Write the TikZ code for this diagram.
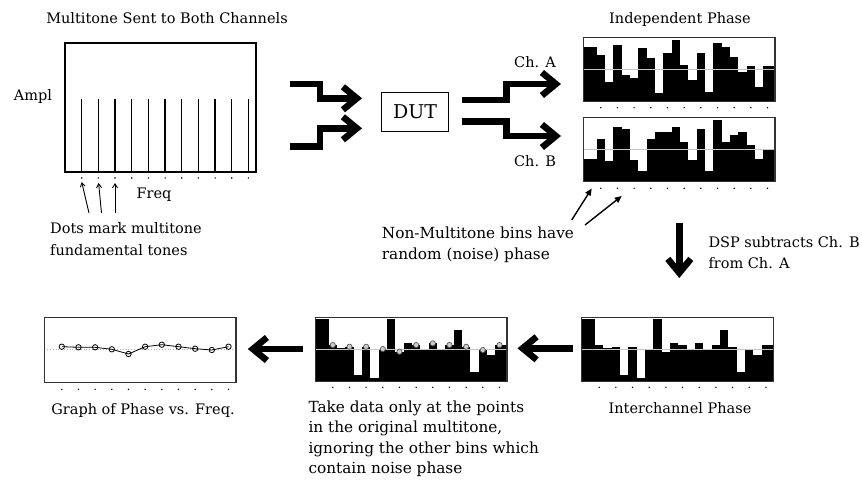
\documentclass[tikz,border=0pt]{standalone}
\usepackage{fontspec}
\setmainfont{DejaVu Serif}
\usetikzlibrary{arrows.meta}

% bars of one phase plot, tops given from the frame's upper edge
\newcommand{\phasebars}[1]{%
  \foreach \v [count=\i from 0] in {#1}{%
    \pgfmathsetmacro{\xa}{ifthenelse(\i==0,0,13.3+8.333*(\i-1))}%
    \pgfmathsetmacro{\xb}{ifthenelse(\i==21,191.7,13.3+8.333*\i)}%
    \fill (\xa,\v) rectangle (\xb,64.4);
  }%
}

\begin{document}
\begin{tikzpicture}[x=1pt, y=-1pt,
  every node/.style={font=\fontsize{14.5}{21.5}\selectfont, inner sep=0pt},
  widenote/.style={font=\fontsize{15.3}{21}\selectfont},
  plotframe/.style={draw=black!80, line width=1.2pt},
  midline/.style={draw=black!22, line width=1pt},
  bigarrow/.style={line width=6.5pt, line join=miter, -{Straight Barb[length=14pt,width=23pt]}},
  thinarrow/.style={line width=0.9pt, -{Straight Barb[length=4pt,width=5pt]}},
  notearrow/.style={line width=1.4pt, -{Triangle[length=7pt,width=6pt]}}]

\useasboundingbox (0,0) rectangle (862,489);

% ============================
% Multitone spectrum
% ============================
\coordinate (specNW) at (65,43);
\coordinate (specSE) at (256,172);
\draw[line width=1.3pt] (specNW) rectangle (specSE);
\foreach \k in {0,...,10}{
  \draw[line width=1.2pt] (81.7+16.67*\k,99) -- (81.7+16.67*\k,172);
  \fill (81.7+16.67*\k,178) circle (0.8pt);
}

\node (sentTitle) at (167,18) {Multitone Sent to Both Channels};
\node (ampl) at (33,97) {Ampl};
\node (freq) at (154,195) {Freq};
\node[anchor=west, align=left] (dotsNote) at (50,239) {Dots mark multitone\\fundamental tones};

\coordinate (f1) at (89,213);   \coordinate (t1) at (81.7,182);
\coordinate (f2) at (101.5,213); \coordinate (t2) at (98.6,183);
\coordinate (f3) at (115,213);  \coordinate (t3) at (115,183);
\draw[thinarrow] (f1) -- (t1);
\draw[thinarrow] (f2) -- (t2);
\draw[thinarrow] (f3) -- (t3);

% ============================
% DUT and its channels
% ============================
\node[draw, line width=0.8pt, minimum width=66.6pt, minimum height=39.4pt,
  font=\fontsize{19}{22}\selectfont] (dut) at (415,112) {DUT};

\coordinate (inA) at (290,84);      \coordinate (inAtip) at (362,98.3);
\coordinate (inB) at (290,146.7);   \coordinate (inBtip) at (362,128.3);
\draw[bigarrow] (inA) -- ++(30,0) |- (inAtip);
\draw[bigarrow] (inB) -- ++(30,0) |- (inBtip);

\coordinate (outA) at (461.7,100);   \coordinate (outAtip) at (561,84);
\coordinate (outB) at (461.7,121.7); \coordinate (outBtip) at (561,136);
\draw[bigarrow] (outA) -- ++(44.6,0) |- (outAtip);
\draw[bigarrow] (outB) -- ++(44.6,0) |- (outBtip);

\node (chA) at (535,62) {Ch. A};
\node (chB) at (535,161) {Ch. B};

% ============================
% Independent phase, Ch. A and Ch. B
% ============================
\node (indepTitle) at (680,20) {Independent Phase};

\begin{scope}[shift={(583.3,37.3)}]
  \phasebars{9.3,17.7,44.3,7.7,37.7,41,11,21,56,16,2.7,27.7,42.7,16,54.3,6,9.3,19.3,34.3,28.3,49.3,28.3}
  \draw[midline] (0,32) -- (191.7,32);
  \draw[plotframe] (0,0) rectangle (191.7,64.4);
  \foreach \k in {0,...,10} \fill (17.5+16.67*\k,70.4) circle (0.8pt);
\end{scope}

\begin{scope}[shift={(583.3,117.3)}]
  \phasebars{41.7,21.3,44,10,11.7,43,54,21.3,15,15,10,24.7,43,11.7,54,3,24.7,18,15,28,41.3,33}
  \draw[midline] (0,32.3) -- (191.7,32.3);
  \draw[plotframe] (0,0) rectangle (191.7,64.4);
  \foreach \k in {0,...,10} \fill (17.5+16.67*\k,71) circle (0.8pt);
\end{scope}

\node[anchor=west, align=left, widenote] (noiseNote) at (381.7,244.7) {Non-Multitone bins have\\random (noise) phase};
\coordinate (n1) at (571.7,220); \coordinate (n1tip) at (591.7,188.5);
\coordinate (n2) at (585,225);   \coordinate (n2tip) at (621.7,196);
\draw[notearrow] (n1) -- (n1tip);
\draw[notearrow] (n2) -- (n2tip);

% ============================
% DSP step
% ============================
\coordinate (dspTop) at (679.3,223.3);
\coordinate (dspTip) at (679.3,278);
\draw[bigarrow] (dspTop) -- (dspTip);
\node[anchor=west, align=left] (dspNote) at (708.3,252.5) {DSP subtracts Ch. B\\from Ch. A};

% ============================
% Interchannel phase
% ============================
\begin{scope}[shift={(581.7,317.3)}]
  \phasebars{2,27.7,31,29.4,57.7,29.4,61,31.7,2,34.4,26,27.7,31.7,26,31.7,27.7,12.7,29.4,54.4,32.7,37.7,27.7}
  \draw[midline] (0,32) -- (191.7,32);
  \draw[plotframe] (0,0) rectangle (191.7,64.4);
  \foreach \k in {0,...,10} \fill (17.5+16.67*\k,70) circle (0.8pt);
\end{scope}
\node (interTitle) at (680,408.3) {Interchannel Phase};

\coordinate (leftA) at (572.7,348.3);
\coordinate (leftAtip) at (517.5,348.3);
\draw[bigarrow] (leftA) -- (leftAtip);

% ============================
% Picked points
% ============================
\begin{scope}[shift={(315.3,317.3)}]
  \phasebars{2,27.7,31,29.4,57.7,29.4,61,31.7,2,34.4,26,27.7,31.7,26,31.7,27.7,12.7,29.4,54.4,32.7,37.7,27.7}
  \draw[midline] (0,32) -- (191.7,32);
  \foreach \y [count=\k from 0] in {27.7,29.4,29.4,31.7,34.4,27.7,26,27.7,29.4,32.7,27.7}
    \draw[draw=black!65, fill=black!20, line width=0.7pt] (17.5+16.67*\k,\y) circle (2.6pt);
  \draw[plotframe] (0,0) rectangle (191.7,64.4);
  \foreach \k in {0,...,10} \fill (17.5+16.67*\k,70) circle (0.8pt);
\end{scope}
\node[anchor=west, align=left, font=\fontsize{15.3}{20.3}\selectfont] (takeNote) at (308.3,438.8)
  {Take data only at the points\\in the original multitone,\\ignoring the other bins which\\contain noise phase};

\coordinate (leftB) at (303.3,349);
\coordinate (leftBtip) at (247.8,349);
\draw[bigarrow] (leftB) -- (leftBtip);

% ============================
% Phase vs. frequency
% ============================
\begin{scope}[shift={(44.3,317.3)}]
  \draw[black!30, dotted, line width=0.8pt] (0,32) -- (191.7,32);
  \draw[line width=0.8pt] (17.5,29.4) -- (34.2,30) -- (50.8,30) -- (67.5,32) -- (84.2,36.7)
    -- (100.9,29.4) -- (117.5,27.4) -- (134.2,29.4) -- (150.9,31.4) -- (167.5,32.7) -- (184.2,29.4);
  \foreach \y [count=\k from 0] in {29.4,30,30,32,36.7,29.4,27.4,29.4,31.4,32.7,29.4}
    \draw[line width=0.8pt] (17.5+16.67*\k,\y) circle (2.7pt);
  \draw[plotframe] (0,0) rectangle (191.7,65.4);
  \foreach \k in {0,...,10} \fill (17.5+16.67*\k,72) circle (0.8pt);
\end{scope}
\node (graphTitle) at (143,410) {Graph of Phase vs. Freq.};

\end{tikzpicture}
\end{document}
